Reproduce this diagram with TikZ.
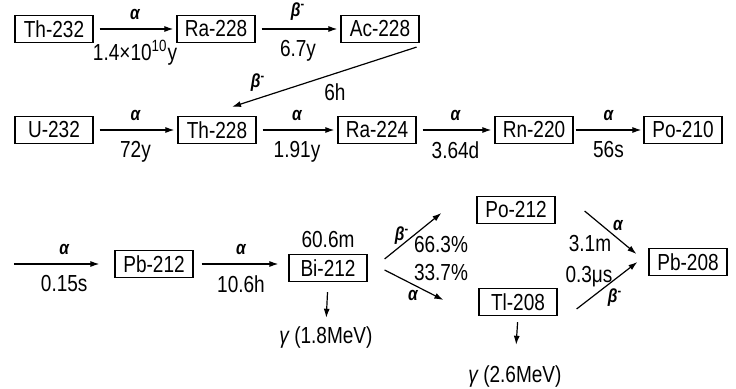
\documentclass[tikz,border=0pt]{standalone}
\usepackage{fontspec}
\setmainfont{Liberation Sans}[FakeStretch=0.82]
\usetikzlibrary{arrows.meta}

\tikzset{
  nuc/.style={draw, line width=0.6pt, minimum width=39pt, minimum height=13.5pt, inner sep=1pt, font=\fontsize{11.6}{12}\selectfont},
  arr/.style={-{Latex[length=4.5pt,width=3pt]}, line width=0.6pt},
  tlab/.style={font=\fontsize{11.6}{12}\selectfont, inner sep=1.5pt},
  dlab/.style={font=\fontsize{9.5}{10}\selectfont\bfseries\itshape, inner sep=2pt},
}
\newcommand{\bminus}{β\textsuperscript{\upshape -}}

\begin{document}
\begin{tikzpicture}[x=0.5pt, y=-0.5pt]
  \useasboundingbox (0,0) rectangle (736,389);
  % thorium series, first row
  \node[nuc] (Th232) at (54,29) {Th-232};
  \node[nuc] (Ra228) at (216,29) {Ra-228};
  \node[nuc] (Ac228) at (380,29) {Ac-228};
  % second row
  \node[nuc] (U232) at (54,130) {U-232};
  \node[nuc] (Th228) at (217,130) {Th-228};
  \node[nuc] (Ra224) at (377,130) {Ra-224};
  \node[nuc] (Rn220) at (534,130) {Rn-220};
  \node[nuc] (Po210) at (683,130) {Po-210};
  % third row and branches
  \coordinate (src) at (14,264);
  \node[nuc] (Pb212) at (154,264) {Pb-212};
  \node[nuc] (Bi212) at (328,268) {Bi-212};
  \node[nuc] (Po212) at (516,210) {Po-212};
  \node[nuc] (Tl208) at (518,302) {Tl-208};
  \node[nuc] (Pb208) at (688,262) {Pb-208};
  \node[tlab] (g1) at (326,338) {{\itshape γ} (1.8MeV)};
  \node[tlab] (g2) at (515,377) {{\itshape γ} (2.6MeV)};
  \node[tlab] (tBi) at (328,240) {60.6m};

  \draw[arr, shorten <=3pt, shorten >=1.5pt] (Th232) -- node[dlab, above=2.5pt] (a1) {α} node[tlab, below=4pt] (t1) {1.4×10\textsuperscript{10}y} (Ra228);
  \draw[arr, shorten <=3pt, shorten >=1.5pt] (Ra228) -- node[dlab, above=2pt] (b1) {\bminus} node[tlab, below=4pt] (t2) {6.7y} (Ac228);
  \draw[arr] ([shift={(-3,4)}]Ac228.south east) -- ([shift={(15,-9)}]Th228.north);
  \node[dlab] (b2) at (258,83) {\bminus};
  \node[tlab] (t3) at (335,92) {6h};

  \draw[arr, shorten <=3pt, shorten >=1.5pt] (U232) -- node[dlab, above=2.5pt] (a2) {α} node[tlab, below=4pt] (t4) {72y} (Th228);
  \draw[arr, shorten <=3pt, shorten >=1.5pt] (Th228) -- node[dlab, above=2.5pt] (a3) {α} node[tlab, below=4pt] (t5) {1.91y} (Ra224);
  \draw[arr, shorten <=3pt, shorten >=1.5pt] (Ra224) -- node[dlab, above=2.5pt] (a4) {α} node[tlab, below=4pt] (t6) {3.64d} (Rn220);
  \draw[arr, shorten <=1pt, shorten >=1pt] (Rn220) -- node[dlab, above=2.5pt] (a5) {α} node[tlab, below=4pt] (t7) {56s} (Po210);

  \draw[arr, shorten >=7.5pt] (src) -- node[dlab, above=2.5pt] (a6) {α} node[tlab, below=4pt] (t8) {0.15s} (Pb212.west);
  \draw[arr, shorten <=4pt, shorten >=5pt] (Pb212.east) -- node[dlab, above=2.5pt] (a7) {α} node[tlab, below=4pt] (t9) {10.6h} (Pb212.east -| Bi212.west);
  \draw[arr, shorten <=5pt, shorten >=3pt] (Bi212.south) -- (g1.north);
  \draw[arr, shorten <=3pt, shorten >=9pt] (Tl208.south) -- (g2.north);

  \draw[arr] ([shift={(17,-9)}]Bi212.east) -- ([shift={(-35,3)}]Po212.west);
  \draw[arr] ([shift={(17,2)}]Bi212.east) -- ([shift={(-35,-2)}]Tl208.west);
  \node[dlab] (b3) at (402,236) {\bminus};
  \node[tlab] (t10) at (441,245) {66.3\%};
  \node[tlab] (t11) at (441,273) {33.7\%};
  \node[dlab] (a8) at (413,295) {α};

  \draw[arr] ([shift={(29,1)}]Po212.east) -- ([shift={(-12,-8)}]Pb208.west);
  \draw[arr] ([shift={(19,7)}]Tl208.east) -- ([shift={(-11,0)}]Pb208.west);
  \node[dlab] (a9) at (618,225) {α};
  \node[tlab] (t12) at (590,244) {3.1m};
  \node[tlab] (t13) at (589,277) {0.3μs};
  \node[dlab] (b4) at (615,298) {\bminus};
\end{tikzpicture}
\end{document}
